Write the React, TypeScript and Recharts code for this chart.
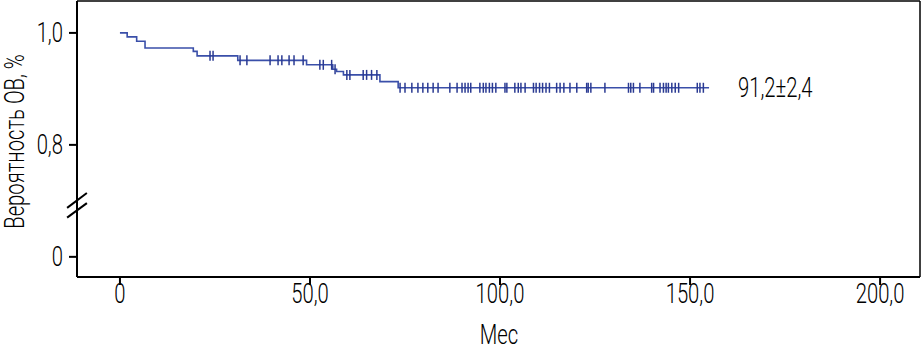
import { ComposedChart, Line, Scatter, XAxis, YAxis, ReferenceLine, ReferenceDot } from 'recharts'

// KM step points (months, survival)
const stepTimes = [0, 1.9, 4.4, 6.6, 19.3, 20.3, 31.0, 49.1, 56.0, 57.0, 58.8, 68.4, 73.2, 155]
const stepSurv = [1.0, 0.993, 0.985, 0.973, 0.967, 0.959, 0.951, 0.943, 0.935, 0.931, 0.925, 0.913, 0.902, 0.902]

// censored observations (months)
const censorTimes = [
  23.7, 24.5, 31.6, 33.4, 39.5, 41.6, 42.6, 44.5, 45.8, 48.2, 52.6, 53.5, 55.7, 56.6, 59.7, 60.5,
  64.0, 64.9, 66.2, 67.6, 73.7, 75.0, 76.8, 78.4, 79.7, 81.0, 82.4, 83.7, 86.8, 88.7, 90.0, 90.8,
  91.6, 92.3, 94.7, 95.6, 96.3, 97.2, 98.0, 98.9, 101.3, 101.8, 103.9, 104.8, 105.5, 106.6, 108.8,
  109.5, 110.4, 111.2, 112.1, 113.0, 114.9, 115.8, 116.8, 118.4, 120.2, 122.8, 123.2, 123.9, 127.6,
  133.8, 134.4, 135.1, 136.8, 139.9, 140.4, 142.1, 143.0, 143.7, 144.3, 145.2, 146.1, 147.0, 151.9,
  152.6, 153.5,
]

const xTicks = [0, 50, 100, 150, 200]
const xTickLabels = ['0', '50,0', '100,0', '150,0', '200,0']
// axis is broken: the "0" tick sits at 0.6 on the display scale
const yTicks = [0.6, 0.8, 1.0]
const yTickLabels = ['0', '0,8', '1,0']

const resultLabel = '91,2±2,4'

const FONT = 'Roboto, sans-serif'
const CURVE = '#3a4fa9'
const MARK = '#2a3a92'

const curveData = stepTimes.map((t, i) => ({ t, s: stepSurv[i] }))

const survAt = (t: number) => {
  let s = stepSurv[0]
  stepTimes.forEach((st, i) => {
    if (st <= t) s = stepSurv[i]
  })
  return s
}
const censorData = censorTimes.map((t) => ({ t, s: survAt(t) }))

// condensed-looking text: squeeze Roboto Light horizontally
const CondText = ({ x, y, anchor, children, rotate = 0 }: any) => (
  <g transform={`translate(${x},${y}) rotate(${rotate})`}>
    <text transform="scale(0.75,1)" textAnchor={anchor} fill="#000" fontSize={27} fontWeight={300} fontFamily={FONT}>
      {children}
    </text>
  </g>
)

const XTick = ({ x, y, payload }: any) => (
  <CondText x={x} y={y + 18} anchor="middle">{xTickLabels[xTicks.indexOf(payload.value)]}</CondText>
)
const YTick = ({ x, y, payload }: any) => (
  <CondText x={x} y={y + 9.5} anchor="end">{yTickLabels[yTicks.indexOf(payload.value)]}</CondText>
)

const CensorMark = (props: any) => {
  const { cx, cy } = props
  if (cx == null || cy == null) return null
  return <line x1={cx} x2={cx} y1={cy - 5} y2={cy + 5} stroke={MARK} strokeWidth={1.5} />
}

export default function App() {
  return (
    <div style={{ position: 'absolute', left: 0, top: 0, width: 922, height: 351, background: '#fff' }}>
      <ComposedChart width={922} height={351} margin={{ top: 1, right: 2, left: 0, bottom: 0 }}>
        <XAxis
          type="number"
          dataKey="t"
          domain={[-11.3, 210.5]}
          allowDataOverflow
          ticks={xTicks}
          height={74}
          axisLine={{ stroke: '#000', strokeWidth: 2 }}
          tickLine={{ stroke: '#000', strokeWidth: 2 }}
          tickSize={8}
          tickMargin={0}
          tick={<XTick />}
          label={{ content: () => <CondText x={499} y={344} anchor="middle">Мес</CondText> }}
        />
        <YAxis
          type="number"
          dataKey="s"
          domain={[0.564, 1.057]}
          allowDataOverflow
          ticks={yTicks}
          width={77}
          axisLine={{ stroke: '#000', strokeWidth: 2 }}
          tickLine={{ stroke: '#000', strokeWidth: 2 }}
          tickSize={8}
          tickMargin={6}
          tick={<YTick />}
          label={{ content: () => <CondText x={24} y={141.5} anchor="middle" rotate={-90}>Вероятность ОВ, %</CondText> }}
        />
        {/* frame top / right */}
        <ReferenceLine y={1.057} stroke="#000" strokeWidth={1.5} />
        <ReferenceLine x={210.5} stroke="#000" strokeWidth={1.5} />
        {/* axis break */}
        <ReferenceLine
          segment={[{ x: -13.9, y: 0.679 }, { x: -8.7, y: 0.705 }]}
          ifOverflow="visible"
          stroke="#fff"
          strokeWidth={7}
        />
        <ReferenceLine
          segment={[{ x: -13.9, y: 0.6875 }, { x: -8.7, y: 0.714 }]}
          ifOverflow="visible"
          stroke="#000"
          strokeWidth={2}
        />
        <ReferenceLine
          segment={[{ x: -13.9, y: 0.67 }, { x: -8.7, y: 0.696 }]}
          ifOverflow="visible"
          stroke="#000"
          strokeWidth={2}
        />
        <Line
          data={curveData}
          dataKey="s"
          type="stepAfter"
          stroke={CURVE}
          strokeWidth={1.6}
          dot={false}
          isAnimationActive={false}
        />
        <Scatter data={censorData} dataKey="s" shape={<CensorMark />} isAnimationActive={false} />
        <ReferenceDot
          x={162.6}
          y={0.902}
          r={0}
          ifOverflow="visible"
          label={{
            content: (p: any) => (
              <CondText x={p.viewBox?.x ?? 738} y={(p.viewBox?.y ?? 88) + 9.5} anchor="start">{resultLabel}</CondText>
            ),
          }}
        />
      </ComposedChart>
    </div>
  )
}
